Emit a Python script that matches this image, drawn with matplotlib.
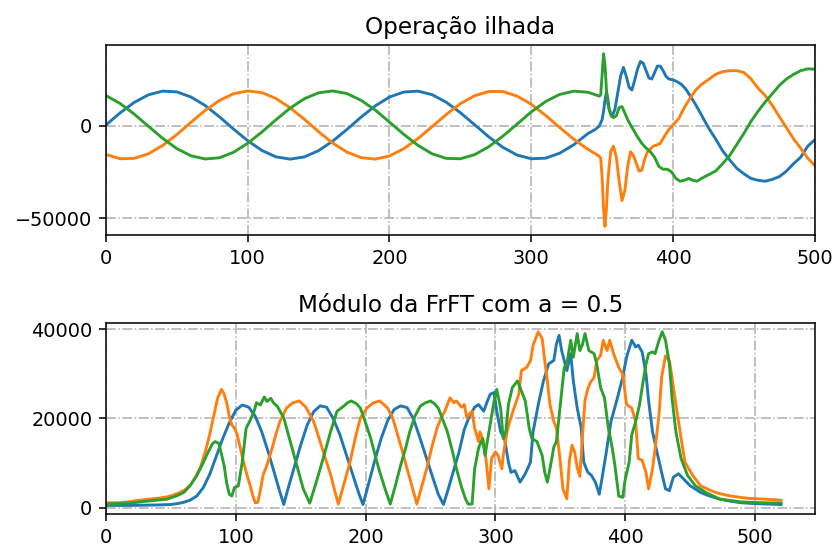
import numpy as np
import matplotlib
matplotlib.use("Agg")
import matplotlib.pyplot as plt

# ---- sinal trifásico (operação ilhada) ----
x_a = [0, 10, 20, 30, 40, 50, 60, 70, 80, 90, 100, 110, 120, 130, 140, 150, 160, 170, 180, 190,
       200, 210, 220, 230, 240, 250, 260, 270, 280, 290, 300, 310, 320, 330, 340,
       345, 348, 350, 351, 352, 353, 354, 355, 357, 359, 361, 363, 365, 367, 369, 371, 373, 375,
       377, 379, 381, 383, 385, 387, 389, 391, 393, 395, 397, 400, 403, 406, 409, 412, 416, 420,
       425, 430, 435, 440, 445, 450, 455, 460, 465, 470, 475, 480, 485, 490, 495, 500]
fase_a = [500, 7100, 12800, 16900, 18900, 18500, 15700, 11100, 5000, -1700, -8000, -13300, -16800,
          -18000, -16800, -13400, -8200, -1900, 4800, 10900, 15700, 18400, 18900, 17000, 12900, 7200,
          700, -5900, -11600, -15800, -17800, -17500, -14800, -10200, -4100,
          -2000, 0, 3500, 8000, 14000, 18000, 15000, 9000, 5000, 9000, 18000, 27000, 31800, 27000,
          21000, 19500, 25000, 31000, 35000, 34000, 30000, 26000, 25500, 29000, 32500, 32500, 30000,
          27000, 25500, 25000, 24000, 22500, 20000, 16500, 11500, 6000, -1000, -7000, -13500, -18500,
          -23000, -26000, -28500, -29500, -30000, -29000, -27500, -24500, -20500, -17000, -11000, -7500]

x_b = [0, 10, 20, 30, 40, 50, 60, 70, 80, 90, 100, 110, 120, 130, 140, 150, 160, 170, 180, 190,
       200, 210, 220, 230, 240, 250, 260, 270, 280, 290, 300, 310, 320, 330, 340,
       345, 348, 349, 350, 351, 352, 353, 354, 356, 358, 360, 362, 364, 366, 368, 370, 372, 374,
       376, 378, 380, 382, 384, 386, 388, 391, 394, 397, 400, 404, 408, 412, 416, 420, 425, 430,
       435, 440, 445, 450, 455, 460, 465, 470, 475, 480, 485, 490, 495, 500]
fase_b = [-15500, -17800, -17600, -15100, -10600, -4700, 2000, 8400, 13800, 17500, 19000, 18100,
          14900, 9800, 3600, -3100, -9300, -14200, -17200, -18000, -16300, -12400, -6900, -400, 6200,
          12100, 16400, 18700, 18700, 16200, 11800, 5800, -800, -7200, -12700,
          -15000, -16500, -17500, -28000, -45000, -54500, -45000, -30000, -14000, -11000, -17000,
          -30000, -40500, -35000, -22000, -14000, -16000, -20000, -24500, -24000, -18000, -14000,
          -12500, -11000, -10500, -9500, -5500, -2000, 500, 4000, 10000, 15000, 19500, 22500, 25200,
          28000, 29500, 30000, 30000, 29000, 25500, 20500, 16500, 11200, 5000, -1000, -7000, -12000,
          -17500, -21500]

x_c = [0, 10, 20, 30, 40, 50, 60, 70, 80, 90, 100, 110, 120, 130, 140, 150, 160, 170, 180, 190,
       200, 210, 220, 230, 240, 250, 260, 270, 280, 290, 300, 310, 320, 330, 340,
       345, 348, 349, 350, 351, 352, 353, 354, 356, 358, 360, 362, 364, 366, 368, 370, 372, 375,
       378, 381, 384, 387, 390, 393, 396, 399, 402, 405, 408, 411, 414, 417, 420, 425, 430, 435,
       440, 445, 450, 455, 460, 465, 470, 475, 480, 485, 490, 495, 500]
fase_c = [16500, 12200, 6400, -200, -6700, -12300, -16200, -17900, -17300, -14300, -9400, -3300,
          3400, 9700, 14800, 18000, 19000, 17600, 13900, 8600, 2100, -4500, -10500, -15100, -17600,
          -17800, -15600, -11300, -5500, 1000, 7600, 13200, 17100, 18900, 18300,
          17000, 16200, 17000, 28000, 39200, 33000, 20000, 12000, 6000, 4500, 5500, 10000, 10500,
          7000, 3500, 500, -2000, -6000, -9500, -12000, -14000, -17000, -22000, -23500, -23500,
          -25000, -28500, -30000, -29500, -28500, -29500, -30000, -28500, -26500, -24500, -20500,
          -16000, -10000, -4000, 2500, 8000, 13000, 17500, 22000, 25500, 28000, 30000, 31000, 30800]

# ---- módulo da FrFT (a = 0.5) ----
xf_a = [0, 10, 20, 30, 40, 50, 55, 60, 65, 70, 75, 80, 85, 90, 95, 100, 105, 110, 115, 120, 125,
        130, 134, 137, 140, 145, 150, 155, 160, 165, 170, 175, 180, 185, 190, 195, 198, 202, 207,
        212, 217, 222, 227, 232, 237, 242, 247, 252, 256, 260, 264, 268, 272, 276, 280, 284, 287,
        291, 294, 296, 299, 301, 304, 307, 310, 312, 315, 319, 323, 327, 329, 333, 337, 341, 345,
        347, 349, 351, 355, 358, 360, 363, 366, 368, 371, 374, 377, 380, 382, 385, 389, 394, 398,
        401, 405, 408, 410, 413, 416, 418, 421, 425, 428, 431, 434, 437, 441, 445, 450, 458, 465,
        473, 480, 489, 500, 510, 520]
frft_a = [500, 500, 500, 550, 600, 700, 900, 1200, 1700, 2600, 4500, 7500, 11500, 15500, 19000,
          21800, 23000, 22500, 20500, 17000, 12500, 7500, 3500, 700, 4000, 9000, 14000, 18500, 21500,
          22800, 22500, 20000, 16500, 12000, 7500, 3000, 700, 5000, 10500, 15500, 19500, 22000, 22800,
          22400, 19800, 15500, 11000, 6500, 3000, 700, 4500, 8500, 12500, 17500, 20500, 22500, 23100,
          21600, 24000, 25400, 25800, 21600, 17000, 15500, 10200, 7900, 8300, 5700, 7600, 10200,
          17000, 23100, 28400, 32200, 33000, 36700, 38600, 35200, 30700, 34500, 28400, 22300, 18000,
          10200, 8000, 7200, 5700, 3000, 6400, 11700, 19300, 24600, 29200, 33700, 37500, 36000, 36400,
          34900, 29900, 23900, 17000, 11700, 7900, 4200, 3800, 6800, 7600, 6400, 4900, 3400, 2600,
          1900, 1500, 1100, 900, 800, 700]

xf_b = [0, 10, 20, 30, 40, 47, 52, 57, 61, 65, 69, 73, 77, 80, 83, 86, 89, 91, 93, 95, 97, 99, 101,
        103, 106, 108, 111, 113, 115, 117, 119, 121, 124, 128, 131, 134, 139, 144, 149, 154, 160,
        165, 169, 173, 176, 179, 183, 188, 192, 196, 201, 206, 211, 217, 221, 224, 228, 232, 236,
        239.5, 243, 247, 251, 255, 258, 261, 265, 268, 270, 274, 276, 278, 280, 282, 284, 287, 288,
        291, 293, 295, 297, 300, 302, 305, 306, 309, 311, 314, 318, 320, 324, 327, 329, 333, 336,
        338, 340, 342, 345, 347, 350, 352, 355, 357, 359, 361, 363, 365, 367, 369, 371, 373, 376,
        378, 381, 383, 386, 388, 391, 395, 398, 401, 405, 408, 410, 413, 416, 418, 421, 423, 426,
        428, 431, 434, 436, 439, 443, 446, 452, 458, 466, 472, 481, 494, 507, 520]
frft_b = [1100, 1100, 1400, 1800, 2100, 2400, 2800, 3400, 4000, 5000, 6800, 9200, 13000, 16500,
          20500, 24500, 26500, 25500, 23500, 20500, 18500, 17800, 16500, 14000, 10200, 8000, 5000,
          2800, 1100, 1200, 4000, 7200, 9500, 13300, 16500, 19300, 22300, 23500, 23900, 22500, 19300,
          14800, 11000, 7500, 4000, 800, 5000, 10200, 15500, 20100, 22300, 23500, 23900, 22300, 20000,
          17000, 13000, 8700, 4500, 800, 4500, 8700, 13500, 17800, 20000, 21600, 24600, 23500, 23900,
          22500, 23100, 20100, 21000, 21600, 17800, 14800, 17000, 14800, 10200, 4200, 11000, 12500,
          11700, 8700, 11700, 17000, 19300, 22000, 25400, 30700, 31400, 32900, 36400, 39400, 37900,
          32900, 28400, 23100, 19300, 17800, 10200, 4200, 2000, 10500, 14000, 12500, 9000, 7000,
          16000, 24000, 26500, 28000, 29200, 32900, 34100, 37500, 35200, 37500, 34500, 31400, 29900,
          23100, 22300, 19300, 11000, 10600, 7900, 4200, 8700, 13300, 20800, 29200, 34000, 32900,
          29200, 23100, 15500, 10200, 7200, 4900, 3800, 3200, 2600, 2100, 1900, 1650]

xf_c = [0, 10, 21, 30, 40, 47, 55, 60, 65, 70, 74, 78, 82, 84, 87, 89, 91, 93, 95, 97, 99, 102, 105,
        108, 111, 114, 116, 119, 122, 124, 127, 129, 132, 137, 142, 147, 152, 157, 162, 168, 173,
        178, 183, 186, 189, 193, 196, 200, 204, 208, 211, 215, 219, 223, 227, 231, 234, 238, 242,
        246, 250, 253, 256, 259, 263, 267, 270, 274, 277, 279, 282, 284, 287, 290, 292, 295, 299,
        301, 304, 306, 308, 310, 313, 317, 319, 323, 326, 328, 332, 336, 338, 340, 342, 345, 347,
        350, 353, 355, 358, 360, 363, 365, 367, 369, 372, 376, 378, 381, 384, 387, 390, 392, 395,
        398, 400, 403, 405, 408, 411, 413, 416, 418, 421, 423, 426, 428.5, 431, 434, 436, 439, 443,
        448, 454, 462, 473, 489, 504, 520]
frft_c = [800, 900, 1100, 1400, 1700, 1900, 2700, 3400, 5000, 7200, 9500, 12000, 14300, 14800,
          14400, 12000, 9500, 5500, 3000, 2600, 4500, 4900, 10200, 17800, 19500, 21500, 23500, 23000,
          24800, 23800, 24500, 23500, 22700, 20100, 14800, 9500, 4200, 1000, 5700, 11700, 17000,
          21600, 22700, 23500, 23900, 23300, 22300, 19000, 15500, 11000, 7900, 4200, 800, 5000, 9500,
          13500, 17000, 20500, 22700, 23500, 23900, 23300, 22300, 20000, 17000, 12500, 8700, 4500,
          1900, 800, 800, 8700, 13300, 15500, 11700, 17000, 23900, 26500, 22300, 15500, 17000, 23100,
          26900, 28400, 26900, 23900, 17800, 15500, 14800, 11700, 7900, 5700, 8700, 13600, 14800,
          23100, 31400, 32200, 37500, 33700, 39000, 35200, 36500, 39000, 35200, 34500, 32200, 26900,
          24600, 17800, 13300, 9500, 2600, 2300, 6400, 10200, 16300, 19300, 23100, 26900, 32200,
          34500, 34900, 34500, 37500, 39400, 37500, 32200, 24600, 17000, 11000, 7200, 4900, 3400,
          1900, 1300, 1100, 1000]

fig = plt.figure(figsize=(6.0, 3.914), dpi=139)

ax1 = fig.add_axes([0.127, 0.568, 0.850, 0.349])
ax1.plot(x_a, fase_a)
ax1.plot(x_b, fase_b)
ax1.plot(x_c, fase_c)
ax1.set_xlim(0, 500)
ax1.set_yticks([-50000, 0])
ax1.grid(True, linestyle='-.')
ax1.set_title('Operação ilhada')

ax2 = fig.add_axes([0.127, 0.055, 0.850, 0.351])
ax2.plot(xf_a, frft_a)
ax2.plot(xf_b, frft_b)
ax2.plot(xf_c, frft_c)
ax2.set_xlim(left=0)
ax2.grid(True, linestyle='-.')
ax2.set_title('Módulo da FrFT com a = 0.5')

fig.savefig('out.png', dpi=139)
